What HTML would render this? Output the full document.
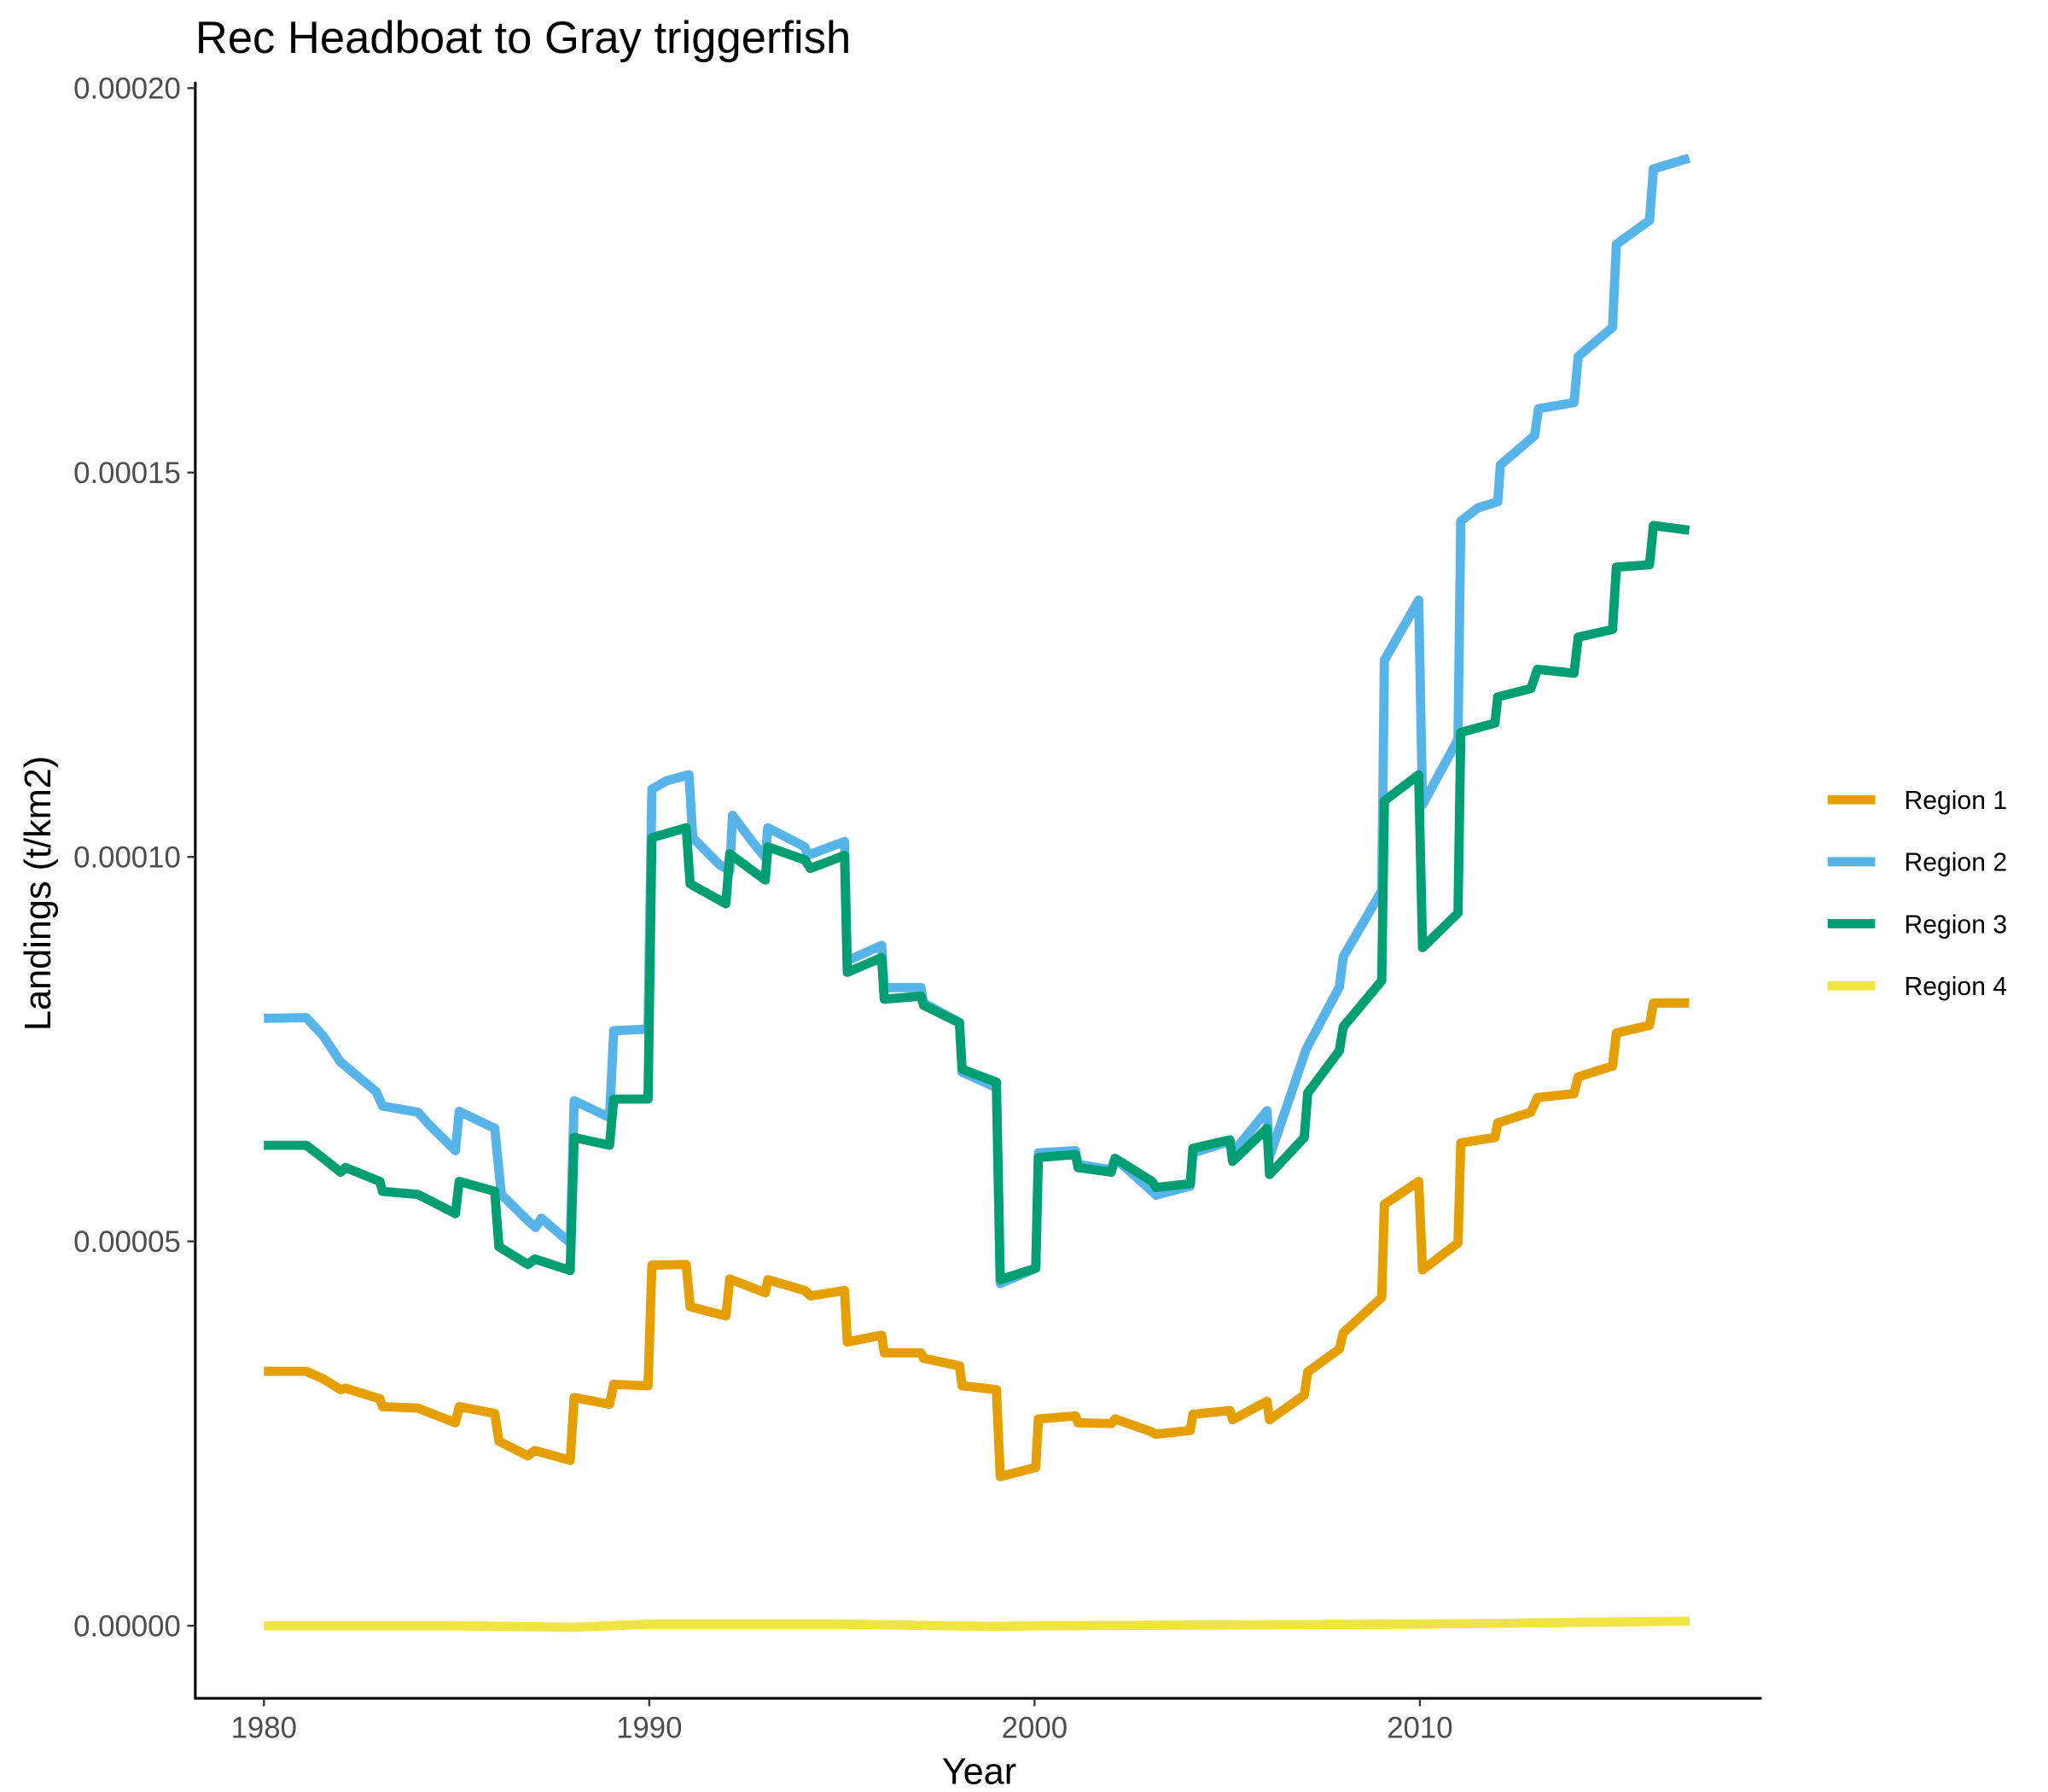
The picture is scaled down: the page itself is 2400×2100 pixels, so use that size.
<!DOCTYPE html>
<html><head><meta charset="utf-8"><style>
html,body{margin:0;padding:0;background:#fff;}
svg{display:block;font-family:"Liberation Sans",Arial,sans-serif;}
</style></head><body>
<svg id="chart" width="2400" height="2100" viewBox="0 0 1552 1358" xmlns="http://www.w3.org/2000/svg">
<rect width="1552" height="1358" fill="#fff"/>
<text x="148" y="40" font-size="34" fill="#000">Rec Headboat to Gray triggerfish</text>
<g id="axes"></g>
<g id="series"></g>
<text x="742" y="1352" font-size="28" text-anchor="middle" fill="#000">Year</text>
<text transform="translate(38,677) rotate(-90)" font-size="28" text-anchor="middle" fill="#000">Landings (t/km2)</text>
<g id="legend"></g>
</svg>
<script>
const yearsA=[1980,1981.1,1981.54,1981.99,1982.12,1983.01,1983.08,1984.0,1984.97,1985.07,1985.99,1986.1,1986.85,1987.03,1987.95,1988.05,1988.97,1989.08,1989.97,1990.07,1990.96,1991.06,1991.99,1992.09,1993.01,1993.08,1994.04,1994.18,1995.07,1995.14,1996.03,1996.1,1997.05,1997.12,1998.05,1998.12,1999.01,1999.11,2000.03,2000.1,2001.06,2001.13,2001.99,2002.09,2003.05,2003.15,2004.04,2004.11,2005.07,2005.14,2006.03,2006.1,2007.0,2007.09,2007.91,2008.01,2009.01,2009.08,2009.97,2010.07,2010.99,2011.06,2011.95,2012.02,2012.88,2013.05,2014.0,2014.11,2015.0,2015.1,2015.96,2016.06,2016.99];
const region1=[3.31,3.31,3.21,3.07,3.09,2.95,2.85,2.83,2.64,2.85,2.76,2.40,2.21,2.28,2.15,2.97,2.88,3.14,3.12,4.69,4.70,4.15,4.03,4.51,4.33,4.50,4.36,4.29,4.36,3.69,3.78,3.55,3.55,3.48,3.38,3.12,3.07,1.94,2.06,2.69,2.73,2.64,2.63,2.69,2.52,2.49,2.54,2.75,2.80,2.68,2.92,2.68,3.00,3.30,3.60,3.81,4.27,5.48,5.78,4.63,4.98,6.28,6.35,6.54,6.68,6.87,6.92,7.14,7.28,7.71,7.81,8.10,8.10];
const region3=[6.25,6.25,6.08,5.90,5.96,5.78,5.65,5.61,5.36,5.78,5.65,4.93,4.70,4.77,4.62,6.35,6.25,6.85,6.85,10.25,10.38,9.65,9.39,10.04,9.70,10.13,9.96,9.85,10.02,8.50,8.69,8.15,8.19,8.07,7.84,7.24,7.07,4.50,4.65,6.09,6.13,5.96,5.90,6.08,5.78,5.70,5.75,6.21,6.32,6.04,6.47,5.87,6.35,6.93,7.48,7.79,8.39,10.73,11.07,8.82,9.27,11.62,11.74,12.08,12.19,12.44,12.39,12.86,12.96,13.77,13.80,14.31,14.25];
const yearsB=[1980,1981.1,1981.54,1981.99,1982.12,1982.4,1982.91,1983.08,1984.0,1984.28,1984.97,1985.07,1985.99,1986.16,1986.85,1987.05,1987.2,1987.95,1988.05,1988.97,1989.08,1989.97,1990.07,1990.45,1991.03,1991.13,1991.82,1992.09,1992.16,1992.67,1993.01,1993.08,1994.04,1994.11,1995.07,1995.14,1996.03,1996.1,1997.05,1997.12,1998.05,1998.12,1999.01,1999.11,2000.03,2000.1,2001.06,2001.13,2001.99,2002.09,2003.05,2003.15,2004.04,2004.11,2005.07,2005.14,2006.03,2006.1,2007.05,2007.91,2008.01,2009.01,2009.08,2009.97,2010.07,2010.99,2011.06,2011.51,2012.02,2012.09,2012.98,2013.08,2014.0,2014.11,2015.0,2015.1,2015.96,2016.06,2016.99];
const region2=[7.90,7.91,7.67,7.33,7.28,7.16,6.95,6.76,6.68,6.52,6.18,6.69,6.47,5.61,5.27,5.18,5.30,4.98,6.83,6.61,7.74,7.76,10.88,10.99,11.07,10.25,9.90,9.82,10.54,10.20,9.99,10.38,10.13,10.02,10.20,8.65,8.85,8.30,8.30,8.10,7.85,7.20,7.00,4.45,4.65,6.15,6.18,6.00,5.93,6.08,5.65,5.60,5.72,6.15,6.30,6.15,6.70,6.10,7.50,8.31,8.70,9.56,12.56,13.34,10.68,11.53,14.37,14.54,14.62,15.10,15.48,15.83,15.91,16.51,16.89,17.97,18.28,18.95,19.09];
const yearsD=[1980,1985,1988,1990,1995,1999,2000,2005,2010,2017];
const region4=[0.0,0.0,-0.02,0.02,0.02,-0.01,0.0,0.01,0.02,0.06];
const xTicks=[1980,1990,2000,2010];
const yTicks=[0,5,10,15,20];
const yTickLabels=["0.00000","0.00005","0.00010","0.00015","0.00020"];
const seriesNames=["Region 1","Region 2","Region 3","Region 4"];
const seriesColors=["#E69F00","#56B4E9","#009E73","#F0E442"];

const NS="http://www.w3.org/2000/svg";
const xS=y=>200+(y-1980)*29.2;
const yS=v=>1232-v*58.26;
function mk(t,a,p){const e=document.createElementNS(NS,t);for(const k in a)e.setAttribute(k,a[k]);p.appendChild(e);return e;}
const axes=document.getElementById('axes');
const ya=mk('line',{x1:148,y1:62,x2:148,y2:1287,stroke:'#000','stroke-width':2},axes);


const xa=mk('line',{x1:147,y1:1287,x2:1335,y2:1287,stroke:'#000','stroke-width':2},axes);


yTicks.forEach((t,i)=>{
 const tk=mk('line',{x1:142,y1:yS(t),x2:148,y2:yS(t),stroke:'#333','stroke-width':1.5},axes);
 
 
 const tx=mk('text',{x:137,y:yS(t)+8,'font-size':22.5,'text-anchor':'end',fill:'#4d4d4d'},axes);
 tx.textContent=yTickLabels[i];
 
 
});
xTicks.forEach(t=>{
 const tk=mk('line',{x1:xS(t),y1:1287,x2:xS(t),y2:1293,stroke:'#333','stroke-width':1.5},axes);
 
 
 const tx=mk('text',{x:xS(t),y:1317,'font-size':22.5,'text-anchor':'middle',fill:'#4d4d4d'},axes);
 tx.textContent=String(t);
 
 
});
const ser=document.getElementById('series');
const allX=[yearsA,yearsB,yearsA,yearsD], allY=[region1,region2,region3,region4];
[3,0,1,2].forEach(i=>{
 const d=allX[i].map((x,j)=>(j?'L':'M')+xS(x).toFixed(1)+','+yS(allY[i][j]).toFixed(1)).join('');
 const p=mk('path',{d:d,fill:'none',stroke:seriesColors[i],'stroke-width':7,'stroke-linejoin':'round'},ser);
 
 
});
const lg=document.getElementById('legend');
seriesNames.forEach((n,i)=>{
 const y=606+i*47;
 const l=mk('line',{x1:1385,y1:y,x2:1421,y2:y,stroke:seriesColors[i],'stroke-width':7},lg);
 
 
 const t=mk('text',{x:1443,y:y+7,'font-size':19.5,fill:'#000'},lg);
 t.textContent=n;
 
 
});
</script>
</body></html>
